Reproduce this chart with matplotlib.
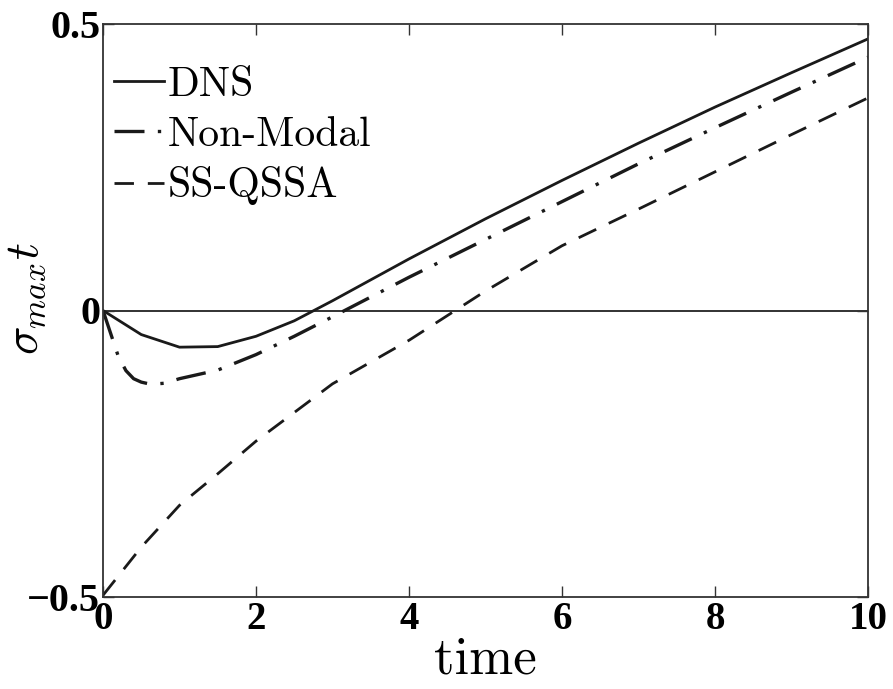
import matplotlib
matplotlib.use('Agg')
import matplotlib.pyplot as plt

plt.rcParams['mathtext.fontset'] = 'cm'
plt.rcParams['axes.unicode_minus'] = False

# DNS
t_dns = [0, 0.5, 1, 1.5, 2, 2.5, 3, 4, 5, 6, 7, 8, 9, 10]
y_dns = [0, -0.042, -0.064, -0.063, -0.045, -0.018, 0.017, 0.09, 0.16,
         0.227, 0.292, 0.355, 0.415, 0.474]

# Non-Modal
t_nm = [0, 0.1, 0.2, 0.3, 0.4, 0.5, 0.6, 0.7, 0.8, 1, 1.5, 2, 2.5, 3,
        4, 5, 6, 7, 8, 9, 10]
y_nm = [0, -0.04, -0.08, -0.105, -0.119, -0.125, -0.128, -0.128, -0.127,
        -0.119, -0.104, -0.077, -0.045, -0.011, 0.058, 0.124, 0.19, 0.256,
        0.319, 0.381, 0.442]

# SS-QSSA
t_ss = [0, 0.5, 1, 1.5, 2, 3, 4, 5, 6, 7, 8, 9, 10]
y_ss = [-0.497, -0.413, -0.34, -0.285, -0.228, -0.128, -0.052, 0.034,
        0.113, 0.177, 0.242, 0.307, 0.371]

xticks = [0, 2, 4, 6, 8, 10]
yticks = [-0.5, 0, 0.5]
ytick_labels = ['\u22120.5', '0', '0.5']

fig = plt.figure(figsize=(8.93, 6.89), dpi=100)
ax = fig.add_axes([103 / 893, 1 - 597 / 689, 765 / 893, 573 / 689])

ax.axhline(0, color='#222222', lw=1.3, zorder=1)
ax.plot(t_dns, y_dns, color='#1a1a1a', lw=2.0, ls='-', label='DNS')
ax.plot(t_nm, y_nm, color='#1a1a1a', lw=2.4, dashes=(9, 4, 1, 4), label='Non-Modal')
ax.plot(t_ss, y_ss, color='#1a1a1a', lw=2.0, dashes=(7, 5), label='SS-QSSA')

ax.set_xlim(0, 10)
ax.set_ylim(-0.5, 0.5)
ax.set_xticks(xticks)
ax.set_yticks(yticks)
ax.set_xticklabels([str(v) for v in xticks], fontfamily='Liberation Serif',
                   fontweight='bold', fontsize=28)
ax.set_yticklabels(ytick_labels, fontfamily='Liberation Serif',
                   fontweight='bold', fontsize=29)
ax.tick_params(direction='in', length=8, width=1, top=True, right=True,
               pad=3, color='#333333')
ax.tick_params(axis='y', pad=2)
for s in ax.spines.values():
    s.set_linewidth(1.3)
    s.set_color('#333333')

ax.set_xlabel('time', fontfamily='cmr10', fontsize=38, labelpad=-1)
ax.set_ylabel(r'$\sigma_{max}t$', fontsize=34)
ax.yaxis.set_label_coords(-0.072, 0.52)

leg = ax.legend(loc='upper left', frameon=False, handlelength=1.2,
                handletextpad=0.1, borderaxespad=0.0, labelspacing=0.3,
                prop={'family': 'cmr10', 'size': 30},
                bbox_to_anchor=(-0.008, 0.955))

fig.savefig('out.png', dpi=100)
